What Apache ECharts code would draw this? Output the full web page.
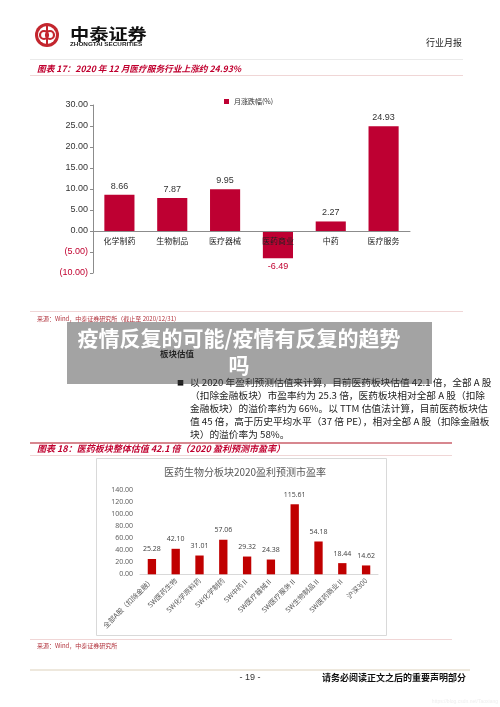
<!DOCTYPE html>
<html>
<head>
<meta charset="utf-8">
<script src="https://cdn.jsdelivr.net/npm/echarts@6/dist/echarts.min.js"></script>
<style>
html,body{margin:0;padding:0;background:#fff;}
#c{width:500px;height:707px;}
</style>
</head>
<body>
<div id="c"></div>
<script>
// Chart 17 data
const cats1 = ['化学制药','生物制品','医疗器械','医药商业','中药','医疗服务'];
const vals1 = [8.66, 7.87, 9.95, -6.49, 2.27, 24.93];
const seriesName1 = '月涨跌幅(%)';
const yMin1 = -10, yMax1 = 30, yStep1 = 5;

// Chart 18 data
const cats2 = ['全部A股（扣除金融）','SW医药生物','SW化学原料药','SW化学制药','SW中药Ⅱ','SW医疗器械Ⅱ','SW医疗服务Ⅱ','SW生物制品Ⅱ','SW医药商业Ⅱ','沪深300'];
const vals2 = [25.28, 42.10, 31.01, 57.06, 29.32, 24.38, 115.61, 54.18, 18.44, 14.62];
const yMin2 = 0, yMax2 = 140, yStep2 = 20;

const paraLines = [
  '以 2020 年盈利预测估值来计算，目前医药板块估值 42.1 倍，全部 A 股',
  '（扣除金融板块）市盈率约为 25.3 倍，医药板块相对全部 A 股（扣除',
  '金融板块）的溢价率约为 66%。以 TTM 估值法计算，目前医药板块估',
  '值 45 倍，高于历史平均水平（37 倍 PE），相对全部 A 股（扣除金融板',
  '块）的溢价率为 58%。'
];

const CJK = '"Noto Sans CJK SC", "Liberation Sans", sans-serif';
const RED = '#C0002F';

function txt(x, y, text, font, fill, align, extra) {
  return Object.assign({
    type: 'text', x: x, y: y, silent: true,
    style: { text: text, font: font, fill: fill, align: align || 'left', verticalAlign: 'middle' }
  }, extra || {});
}
function line(x1, y1, x2, y2, color, w) {
  return { type: 'line', silent: true, shape: { x1: x1, y1: y1, x2: x2, y2: y2 }, style: { stroke: color, lineWidth: w || 1 } };
}

const graphics = [
  // logo
  { type: 'circle', shape: { cx: 47, cy: 35, r: 12 }, style: { fill: '#C3262E' } },
  { type: 'circle', shape: { cx: 47, cy: 35, r: 9 }, style: { fill: '#fff' } },
  { type: 'circle', shape: { cx: 44, cy: 35, r: 4 }, style: { fill: 'none', stroke: '#C3262E', lineWidth: 2.2 } },
  { type: 'circle', shape: { cx: 50, cy: 35, r: 4 }, style: { fill: 'none', stroke: '#C3262E', lineWidth: 2.2 } },
  { type: 'rect', shape: { x: 46, y: 25, width: 2, height: 20 }, style: { fill: '#C3262E' } },
  txt(70, 34, '中泰证券', 'bold 16px ' + CJK, '#111', 'left', { scaleX: 1.2, originX: 0, originY: 0 }),
  txt(70, 44.5, 'ZHONGTAI SECURITIES', 'bold 5.5px "Liberation Sans", sans-serif', '#222', 'left', { scaleX: 1.15, originX: 0, originY: 0 }),
  txt(462, 43, '行业月报', '9px ' + CJK, '#222', 'right'),
  line(30, 59.5, 463, 59.5, '#EAEAEA', 1),

  // chart 17 title
  txt(37, 68.5, '图表 17：2020 年 12 月医疗服务行业上涨约 24.93%', 'italic bold 8.7px ' + CJK, RED, 'left'),
  line(30, 75.5, 463, 75.5, '#F0D6D6', 1),
  line(30, 311.5, 463, 311.5, '#F0D6D6', 1),
  txt(37, 318.5, '来源：Wind，中泰证券研究所（截止至 2020/12/31）', '6px ' + CJK, '#B0303A', 'left'),

  // section
  txt(160, 354, '板块估值', 'bold 8.5px ' + CJK, '#111', 'left'),
  txt(177, 382, '■', '7px ' + CJK, '#111', 'left'),

  // chart 18 title
  line(30, 443, 452, 443, '#B01020', 1.2),
  txt(37, 449, '图表 18：医药板块整体估值 42.1 倍（2020 盈利预测市盈率）', 'italic bold 9px ' + CJK, RED, 'left'),
  line(30, 455.5, 452, 455.5, '#F0D6D6', 1),
  { type: 'rect', silent: true, shape: { x: 96.5, y: 458.5, width: 290, height: 177 }, style: { fill: 'none', stroke: '#D9D9D9', lineWidth: 1 } },
  txt(245, 472, '医药生物分板块2020盈利预测市盈率', '10px ' + CJK, '#595959', 'center'),
  line(30, 639.5, 452, 639.5, '#F0D6D6', 1),
  txt(37, 646, '来源：Wind，中泰证券研究所', '6px ' + CJK, '#B0303A', 'left'),

  // footer
  line(30, 670, 470, 670, '#E8E0D2', 1.5),
  txt(250, 678, '- 19 -', '9px "Liberation Sans", sans-serif', '#333', 'center'),
  txt(466, 678, '请务必阅读正文之后的重要声明部分', 'bold 9px ' + CJK, '#111', 'right'),
  txt(498, 702, 'https://blog.csdn.net/Taoxiang', '5px "Liberation Sans", sans-serif', '#EEEEEE', 'right'),

  // overlay
  { type: 'rect', z: 100, silent: true, shape: { x: 67, y: 322, width: 365, height: 62 }, style: { fill: 'rgba(60,60,60,0.47)' } },
  txt(239, 338, '疫情反复的可能/疫情有反复的趋势', 'bold 21px ' + CJK, '#fff', 'center', { z: 101 }),
  txt(239, 365, '吗', 'bold 21px ' + CJK, '#fff', 'center', { z: 101 })
];
paraLines.forEach(function (s, i) {
  graphics.push(txt(190, 382 + i * 13, s, '9.6px ' + CJK, '#222', 'left', { scaleX: 1.01, originX: 0, originY: 0 }));
});

const chart = echarts.init(document.getElementById('c'), null, { renderer: 'canvas' });
chart.setOption({
  animation: false,
  backgroundColor: '#fff',
  graphic: graphics,
  legend: {
    data: [seriesName1],
    left: 219, top: 93,
    itemWidth: 5, itemHeight: 5, itemGap: 4,
    icon: 'rect',
    textStyle: { fontSize: 7, color: '#333', fontFamily: CJK }
  },
  grid: [
    { left: 93, top: 105, width: 317, height: 168 },
    { left: 140, top: 489.5, width: 238, height: 84.8 }
  ],
  xAxis: [
    {
      gridIndex: 0, type: 'category', data: cats1,
      position: 'bottom', offset: -42, z: 5,
      axisLine: { onZero: false, lineStyle: { color: '#8C8C8C' } },
      axisTick: { show: false },
      axisLabel: { fontSize: 8, color: '#222', fontFamily: CJK, margin: 6 }
    },
    {
      gridIndex: 1, type: 'category', data: cats2,
      axisLine: { lineStyle: { color: '#D9D9D9' } },
      axisTick: { show: false },
      axisLabel: { fontSize: 7, color: '#595959', fontFamily: CJK, rotate: 45, margin: 5, interval: 0 }
    }
  ],
  yAxis: [
    {
      gridIndex: 0, type: 'value', min: yMin1, max: yMax1, interval: yStep1,
      axisLine: { show: true, lineStyle: { color: '#8C8C8C' } },
      axisTick: { show: true, length: 3, lineStyle: { color: '#8C8C8C' } },
      splitLine: { show: false },
      axisLabel: {
        fontSize: 9, fontFamily: '"Liberation Sans", Arial, sans-serif', margin: 5,
        formatter: function (v) { return v < 0 ? '(' + (-v).toFixed(2) + ')' : v.toFixed(2); },
        color: function (v) { return Number(v) < 0 ? RED : '#333'; }
      }
    },
    {
      gridIndex: 1, type: 'value', min: yMin2, max: yMax2, interval: yStep2,
      axisLine: { show: false }, axisTick: { show: false },
      splitLine: { show: false },
      axisLabel: {
        fontSize: 7, color: '#595959', fontFamily: '"Open Sans", "Liberation Sans", sans-serif', margin: 7,
        formatter: function (v) { return v.toFixed(2); }
      }
    }
  ],
  series: [
    {
      name: seriesName1, type: 'bar', xAxisIndex: 0, yAxisIndex: 0,
      barWidth: '57%', z: 2,
      itemStyle: { color: '#BE0032' },
      data: vals1.map(function (v) {
        return v < 0 ? { value: v, label: { position: 'bottom', color: RED } } : v;
      }),
      label: {
        show: true, position: 'top', distance: 4, fontSize: 9, color: '#333',
        fontFamily: '"Liberation Sans", Arial, sans-serif',
        formatter: function (p) { return p.value.toFixed(2); }
      }
    },
    {
      name: 'PE', type: 'bar', xAxisIndex: 1, yAxisIndex: 1,
      barWidth: '35%',
      itemStyle: { color: '#C00000' },
      data: vals2,
      label: {
        show: true, position: 'top', distance: 6, fontSize: 7, color: '#404040',
        fontFamily: '"Open Sans", "Liberation Sans", sans-serif',
        formatter: function (p) { return p.value.toFixed(2); }
      }
    }
  ]
});
</script>
</body>
</html>
